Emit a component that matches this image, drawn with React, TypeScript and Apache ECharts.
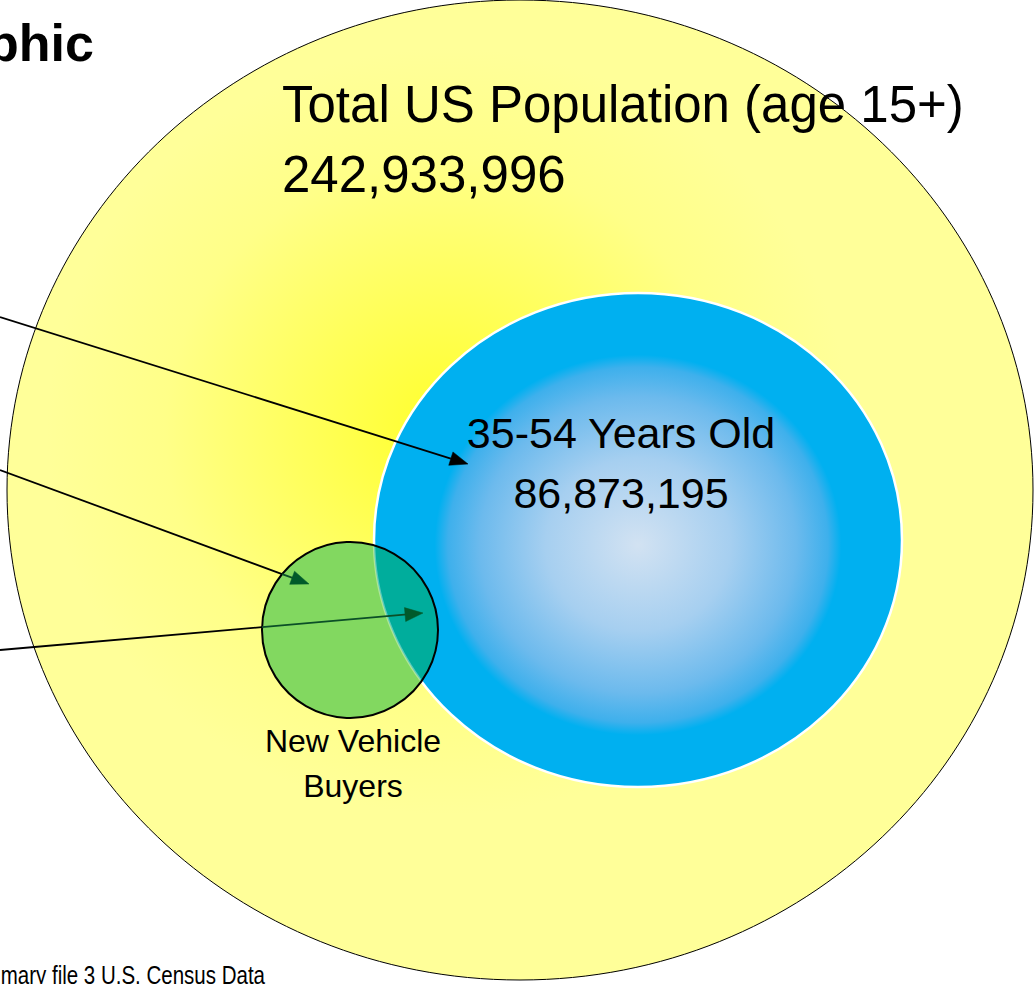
import React, { useEffect, useRef } from "react";
import * as echarts from "echarts";

// ---- data ----
const setNames = ["Total US Population (age 15+)", "35-54 Years Old", "New Vehicle", "Buyers"];
const setValues = [242933996, 86873195];
const titleText = "Demographic";
const sourceText = "Summary file 3 U.S. Census Data";

const W = 1036;
const H = 984;

// geometry of the diagram
const outer = { cx: 520, cy: 490, rx: 513, ry: 490 };
const mid = { cx: 638, cy: 540, rx: 264, ry: 247 };
const small = { cx: 350, cy: 630, r: 88 };

const arrows = [
  { from: [0, 317], to: [468, 464], head: "#000" },
  { from: [0, 470], to: [309, 584], head: "#005a2a" },
  { from: [0, 650], to: [423, 613], head: "#005a2a" },
];

const FONT = "'Liberation Sans', Arial, Helvetica, sans-serif";

function inEllipse(x: number, y: number) {
  const a = (x - mid.cx) / mid.rx;
  const b = (y - mid.cy) / mid.ry;
  return a * a + b * b <= 1;
}
function inCircle(x: number, y: number) {
  const dx = x - small.cx, dy = y - small.cy;
  return dx * dx + dy * dy <= small.r * small.r;
}

function lensPoints() {
  const N = 720;
  const circ: number[][] = [];
  for (let i = 0; i <= N; i++) {
    const a = -Math.PI + (2 * Math.PI * i) / N;
    const x = small.cx + small.r * Math.cos(a);
    const y = small.cy + small.r * Math.sin(a);
    if (inEllipse(x, y)) circ.push([x, y]);
  }
  const ell: number[][] = [];
  for (let i = 0; i <= N; i++) {
    const a = (2 * Math.PI * i) / N;
    const x = mid.cx + mid.rx * Math.cos(a);
    const y = mid.cy + mid.ry * Math.sin(a);
    if (inCircle(x, y)) ell.push([x, y]);
  }
  return { circ, ell };
}

function arrowElements() {
  const els: any[] = [];
  arrows.forEach((ar) => {
    const [x0, y0] = ar.from;
    const [x1, y1] = ar.to;
    const dx = x1 - x0, dy = y1 - y0;
    const len = Math.hypot(dx, dy);
    const ux = dx / len, uy = dy / len;
    const nx = -uy, ny = ux;
    const L = 18, Wd = 7;
    const bx = x1 - L * ux, by = y1 - L * uy;
    // entry into small circle
    const fx = x0 - small.cx, fy = y0 - small.cy;
    const bq = 2 * (fx * ux + fy * uy);
    const cq = fx * fx + fy * fy - small.r * small.r;
    const disc = bq * bq - 4 * cq;
    let tEntry = len;
    if (disc > 0) {
      const t1 = (-bq - Math.sqrt(disc)) / 2;
      if (t1 > 0 && t1 < len) tEntry = t1;
    }
    const tBase = len - L;
    const tBlackEnd = Math.min(tEntry, tBase);
    els.push({
      type: "line",
      shape: { x1: x0, y1: y0, x2: x0 + ux * tBlackEnd, y2: y0 + uy * tBlackEnd },
      style: { stroke: "#000", lineWidth: 1.8 },
    });
    if (tEntry < tBase) {
      els.push({
        type: "line",
        shape: {
          x1: x0 + ux * tEntry, y1: y0 + uy * tEntry,
          x2: x0 + ux * tBase + ux * 2, y2: y0 + uy * tBase + uy * 2,
        },
        style: { stroke: "#0b4f27", lineWidth: 1.8 },
      });
    }
    els.push({
      type: "polygon",
      shape: { points: [[x1, y1], [bx + nx * Wd, by + ny * Wd], [bx - nx * Wd, by - ny * Wd]] },
      style: { fill: ar.head, stroke: ar.head, lineWidth: 0.5 },
    });
  });
  return els;
}

function fmt(n: number) {
  return n.toLocaleString("en-US");
}

export default function App() {
  const ref = useRef<HTMLDivElement>(null);
  useEffect(() => {
    if (!ref.current) return;
    const chart = echarts.init(ref.current, null, { renderer: "svg" });
    const { circ, ell } = lensPoints();
    const lens = circ.concat(ell);

    const elements: any[] = [
      {
        type: "ellipse",
        shape: { cx: outer.cx, cy: outer.cy, rx: outer.rx, ry: outer.ry },
        style: {
          fill: {
            type: "radial", x: 0.43, y: 0.44, r: 0.46,
            colorStops: [
              { offset: 0, color: "#ffff2a" },
              { offset: 0.25, color: "#ffff52" },
              { offset: 0.6, color: "#ffff88" },
              { offset: 0.85, color: "#ffff99" },
              { offset: 1, color: "#ffff99" },
            ],
          },
          stroke: "#000", lineWidth: 1,
        },
      },
      {
        type: "ellipse",
        shape: { cx: mid.cx, cy: mid.cy, rx: mid.rx, ry: mid.ry },
        style: {
          fill: {
            type: "radial", x: 0.5, y: 0.51, r: 0.5,
            colorStops: [
              { offset: 0, color: "#d2e2f2" },
              { offset: 0.35, color: "#a6cff0" },
              { offset: 0.6, color: "#6cbaed" },
              { offset: 0.72, color: "#3eb0ec" },
              { offset: 0.77, color: "#00b0f0" },
              { offset: 1, color: "#00b0f0" },
            ],
          },
          stroke: "#fff", lineWidth: 2.5,
        },
      },
      {
        type: "circle",
        shape: { cx: small.cx, cy: small.cy, r: small.r },
        style: { fill: "#82d860", stroke: "none" },
      },
      {
        type: "polygon",
        shape: { points: lens },
        style: { fill: "#00ad9c", stroke: "none" },
      },
      {
        type: "polyline",
        shape: { points: ell },
        style: { stroke: "rgba(255,255,255,0.35)", lineWidth: 2.5, fill: "none" },
      },
      {
        type: "circle",
        shape: { cx: small.cx, cy: small.cy, r: small.r },
        style: { fill: "none", stroke: "#000", lineWidth: 2 },
      },
      ...arrowElements(),
      {
        type: "text", x: 94, y: 43,
        style: { text: titleText, font: `bold 52px ${FONT}`, fill: "#000", align: "right", verticalAlign: "middle" },
      },
      {
        type: "text", x: 282, y: 104,
        style: { text: setNames[0], font: `51px ${FONT}`, fill: "#000", align: "left", verticalAlign: "middle" },
      },
      {
        type: "text", x: 282, y: 174,
        style: { text: fmt(setValues[0]), font: `51px ${FONT}`, fill: "#000", align: "left", verticalAlign: "middle" },
      },
      {
        type: "text", x: 621, y: 433,
        style: { text: setNames[1], font: `43px ${FONT}`, fill: "#000", align: "center", verticalAlign: "middle" },
      },
      {
        type: "text", x: 621, y: 493,
        style: { text: fmt(setValues[1]), font: `43px ${FONT}`, fill: "#000", align: "center", verticalAlign: "middle" },
      },
      {
        type: "text", x: 353, y: 741,
        style: { text: setNames[2], font: `32px ${FONT}`, fill: "#000", align: "center", verticalAlign: "middle" },
      },
      {
        type: "text", x: 353, y: 786,
        style: { text: setNames[3], font: `32px ${FONT}`, fill: "#000", align: "center", verticalAlign: "middle" },
      },
      {
        type: "text", x: 265, y: 975, scaleX: 0.82,
        style: {
          text: sourceText,
          font: `25px ${FONT}`,
          fill: "#000", align: "right", verticalAlign: "middle",
        },
      },
    ];

    chart.setOption({
      animation: false,
      backgroundColor: "#ffffff",
      graphic: { elements },
    });
    return () => chart.dispose();
  }, []);
  return (
    <div
      ref={ref}
      style={{ position: "absolute", left: 0, top: 0, width: W, height: H }}
    />
  );
}
